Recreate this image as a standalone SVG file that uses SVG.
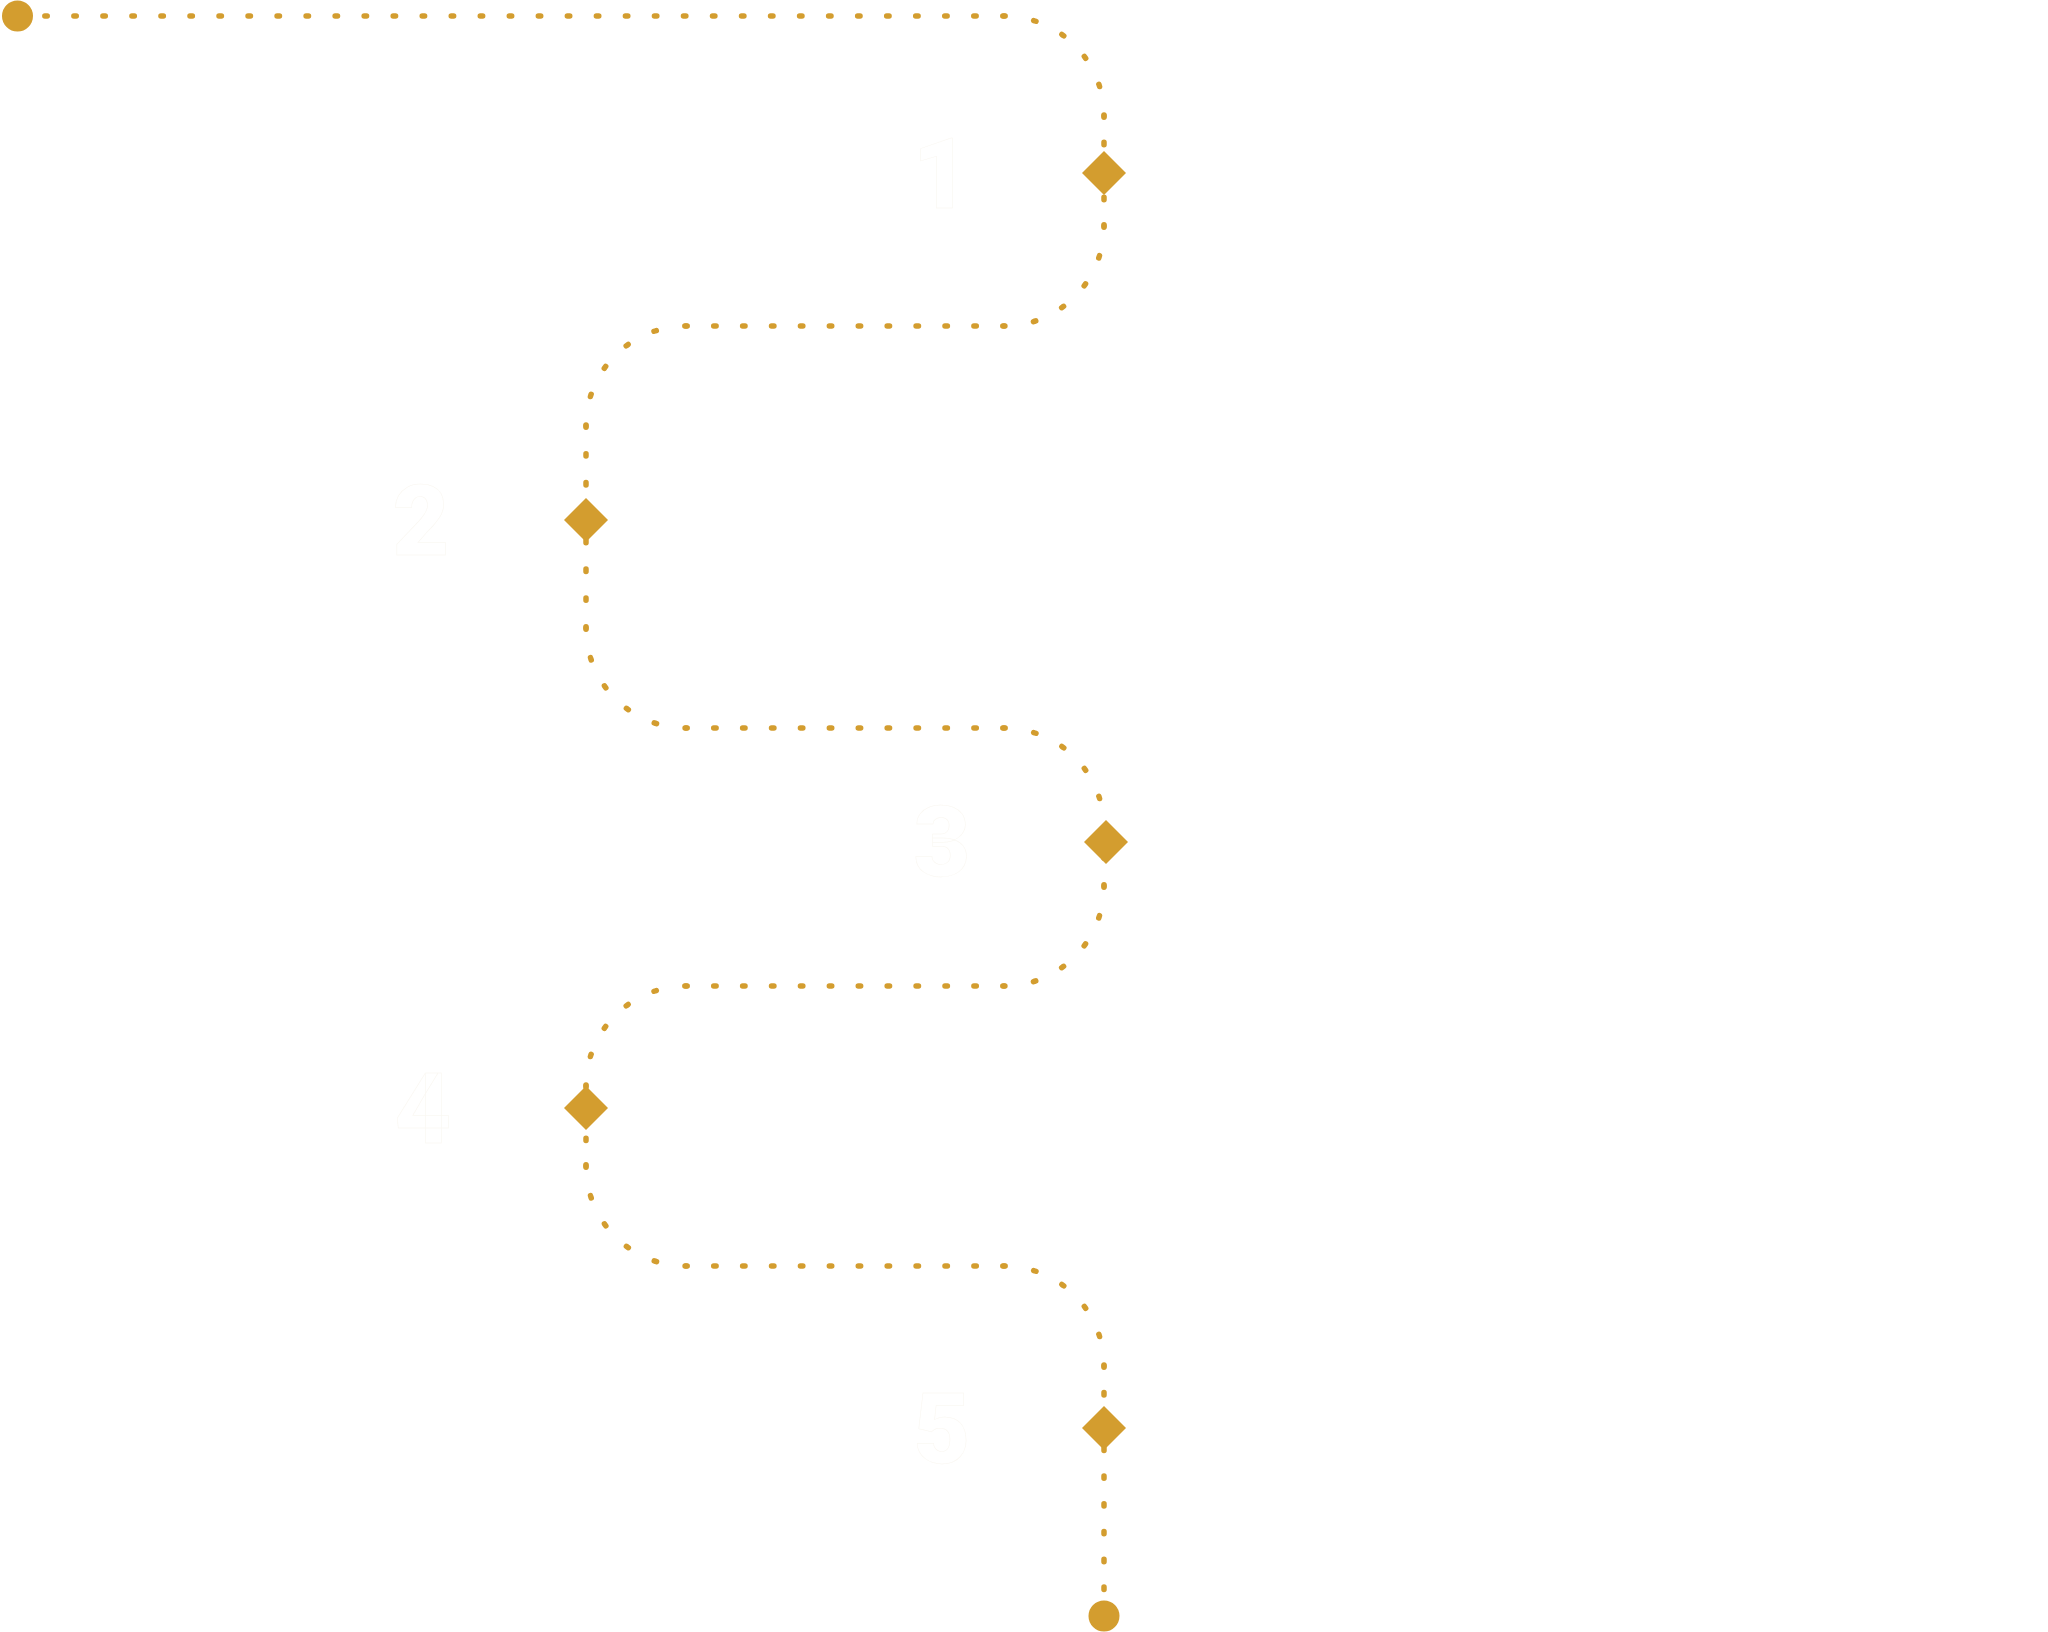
<svg xmlns="http://www.w3.org/2000/svg" width="2048" height="1632" viewBox="0 0 2048 1632">
  <style>
    .seg { fill: none; stroke: #D39D2F; stroke-width: 5.5; stroke-linecap: round; stroke-dashoffset: 1.2; }
    .h1 { stroke-dasharray: 2.4 26.629; }
    .arc { stroke-dasharray: 2.4 29.016; }
    .h { stroke-dasharray: 2.4 26.509; }
    .v1 { stroke-dasharray: 2.4 25.1; }
    .v2 { stroke-dasharray: 2.4 26.457; }
    .v3 { stroke-dasharray: 2.4 26.6; }
    .v4 { stroke-dasharray: 2.4 24.267; }
    .v5 { stroke-dasharray: 2.4 25.378; }
    .mark { fill: #D39D2F; }
    .num { font-family: Roboto, "Liberation Sans", Arial, sans-serif; font-weight: 900; font-size: 98px; fill: #FFFFFF; stroke: #EDE6D4; stroke-width: 0.5; stroke-opacity: 0.35; text-anchor: middle; }
  </style>
  <defs>
    <path id="diamond" d="M0,-22 L22,0 L0,22 L-22,0 Z"/>
  </defs>
  <rect x="0" y="0" width="2048" height="1632" fill="#FFFFFF"/>
  <g id="connectors">
    <path class="seg h1" d="M 17 16 H 1004"/>
    <path class="seg arc" d="M 1004 16 A 100 100 0 0 1 1104 116"/>
    <path class="seg v1" d="M 1104 116 V 226"/>
    <path class="seg arc" d="M 1104 226 A 100 100 0 0 1 1004 326"/>
    <path class="seg h" d="M 1004 326 H 686"/>
    <path class="seg arc" d="M 686 326 A 100 100 0 0 0 586 426"/>
    <path class="seg v2" d="M 586 426 V 628"/>
    <path class="seg arc" d="M 586 628 A 100 100 0 0 0 686 728"/>
    <path class="seg h" d="M 686 728 H 1004"/>
    <path class="seg arc" d="M 1004 728 A 100 100 0 0 1 1104 828"/>
    <path class="seg v3" d="M 1104 828 V 886"/>
    <path class="seg arc" d="M 1104 886 A 100 100 0 0 1 1004 986"/>
    <path class="seg h" d="M 1004 986 H 686"/>
    <path class="seg arc" d="M 686 986 A 100 100 0 0 0 586 1086"/>
    <path class="seg v4" d="M 586 1086 V 1166"/>
    <path class="seg arc" d="M 586 1166 A 100 100 0 0 0 686 1266"/>
    <path class="seg h" d="M 686 1266 H 1004"/>
    <path class="seg arc" d="M 1004 1266 A 100 100 0 0 1 1104 1366"/>
    <path class="seg v5" d="M 1104 1366 V 1616"/>
  </g>
  <g id="start">
    <circle class="mark" cx="17.5" cy="16" r="15.5"/>
  </g>
  <g id="step1">
    <use href="#diamond" class="mark" x="1104" y="173"/>
    <text class="num" x="941" y="208">1</text>
  </g>
  <g id="step2">
    <use href="#diamond" class="mark" x="586" y="520"/>
    <text class="num" x="421" y="555">2</text>
  </g>
  <g id="step3">
    <use href="#diamond" class="mark" x="1106" y="842"/>
    <text class="num" x="942" y="876">3</text>
  </g>
  <g id="step4">
    <use href="#diamond" class="mark" x="586" y="1108"/>
    <text class="num" x="423" y="1143">4</text>
  </g>
  <g id="step5">
    <use href="#diamond" class="mark" x="1104" y="1428"/>
    <text class="num" x="942" y="1463">5</text>
  </g>
  <g id="end">
    <circle class="mark" cx="1104" cy="1616" r="15.5"/>
  </g>
</svg>
